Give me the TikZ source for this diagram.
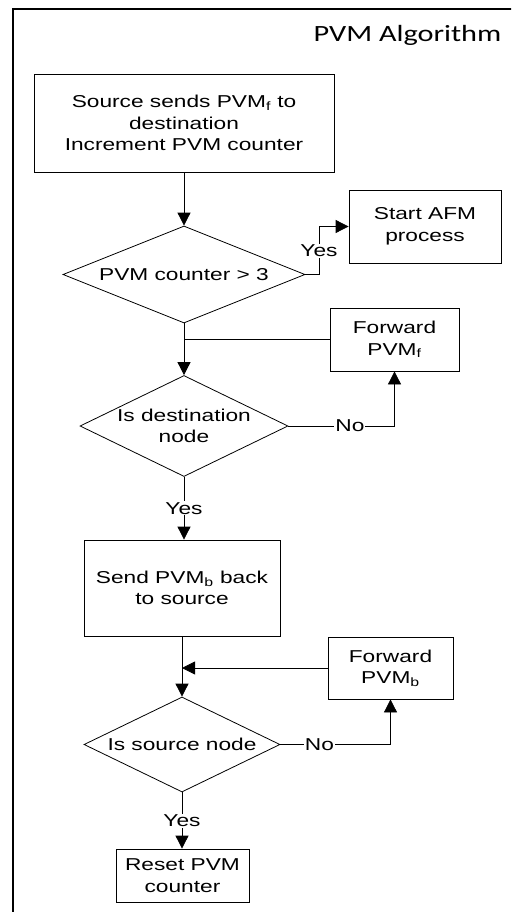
\documentclass[tikz,border=0pt]{standalone}
\usepackage{fontspec}
\setmainfont{Liberation Sans}[FakeStretch=1.32]
\newfontfamily\titlefont{Carlito}[FakeStretch=1.3]
\usetikzlibrary{shapes.geometric,arrows.meta}
\begin{document}
\begin{tikzpicture}[x=1pt,y=-1pt,
  txt/.style={font=\fontsize{17.2}{21.5}\selectfont,align=center},
  box/.style={draw,line width=0.8pt,inner sep=0pt,txt},
  dia/.style={draw,diamond,line width=0.8pt,inner sep=0pt},
  lab/.style={fill=white,inner sep=1pt,txt},
  arr/.style={-{Triangle[length=13pt,width=13pt]},line width=0.8pt},
  ln/.style={line width=0.8pt}]
\useasboundingbox (0,0) rectangle (511,912);
\clip (0,0) rectangle (511,912);
\draw[line width=1.6pt] (13,9) rectangle (540,940);
\node[anchor=base east,inner sep=0pt,font=\titlefont\fontsize{23.3}{28}\selectfont] (title) at (501.5,41.7) {PVM Algorithm};

\node[box,minimum width=300pt,minimum height=98pt] (b1) at (184,123) {Source sends PVM\textsubscript{f} to\\destination\\Increment PVM counter};
\node[dia,minimum width=242pt,minimum height=97pt,label={[txt]center:PVM counter > 3}] (d1) at (184,274.5) {};
\node[box,minimum width=152pt,minimum height=73pt] (afm) at (425,226.5) {Start AFM\\process};
\node[box,minimum width=129pt,minimum height=63pt] (fwf) at (394.5,339.5) {Forward\\PVM\textsubscript{f}};
\node[dia,minimum width=208pt,minimum height=101pt,label={[txt]center:Is destination\\node}] (d2) at (184,426) {};
\node[box,minimum width=196pt,minimum height=96pt] (send) at (182,588) {Send PVM\textsubscript{b} back\\to source};
\node[box,minimum width=125pt,minimum height=62pt] (fwb) at (390.5,668) {Forward\\PVM\textsubscript{b}};
\node[dia,minimum width=196pt,minimum height=95pt,label={[txt]center:Is source node}] (d3) at (182,744.5) {};
\node[box,minimum width=133pt,minimum height=53pt] (reset) at (182.5,875.5) {Reset PVM\\counter};

\coordinate (yk) at (319,274.5);
\draw[arr] (b1.south) -- (d1.north);
\draw[arr] (d1.east) -- (yk) |- node[lab,pos=0.25] {Yes} (afm.west);
\draw[arr] (d1.south) -- (d2.north);
\draw[ln] (fwf.west) -- (fwf.west -| d1.south);
\draw[arr] (d2.east) -| node[lab,pos=0.29] {No} (fwf.south);
\draw[arr] (d2.south) -- node[lab,midway] {Yes} (d2.south |- send.north);
\draw[arr] (send.south) -- (d3.north);
\draw[arr] (fwb.west) -- (fwb.west -| send.south);
\draw[arr] (d3.east) -| node[lab,pos=0.177] {No} (fwb.south);
\draw[arr] (d3.south) -- node[lab,midway] {Yes} (d3.south |- reset.north);
\end{tikzpicture}
\end{document}
